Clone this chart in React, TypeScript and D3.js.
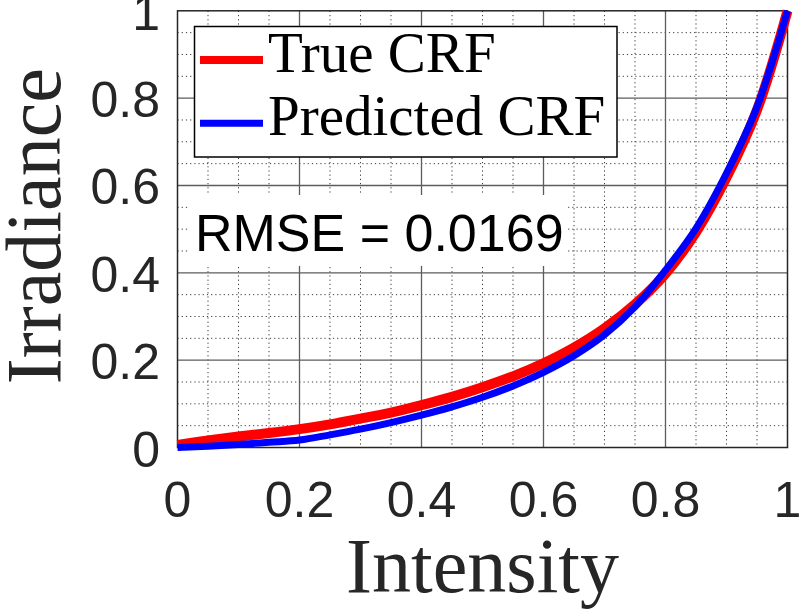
import React from 'react';
import * as d3 from 'd3';

// values
const intensity = [0, 0.05, 0.1, 0.15, 0.2, 0.25, 0.3, 0.35, 0.4, 0.45, 0.5, 0.55, 0.6, 0.65, 0.7, 0.75, 0.8, 0.85, 0.9, 0.95, 1];
const trueCrf = [0.006, 0.016, 0.025, 0.033, 0.042, 0.053, 0.066, 0.08, 0.097, 0.116, 0.138, 0.163, 0.193, 0.229, 0.273, 0.328, 0.398, 0.493, 0.618, 0.773, 1.0];
const predictedCrf = [0.0, 0.003, 0.007, 0.012, 0.017, 0.029, 0.042, 0.057, 0.074, 0.093, 0.115, 0.141, 0.172, 0.21, 0.258, 0.322, 0.406, 0.502, 0.628, 0.78, 1.0];
const majorTicks = [0, 0.2, 0.4, 0.6, 0.8, 1];
const tickLabels = ['0', '0.2', '0.4', '0.6', '0.8', '1'];
const minorTicks = [0.05, 0.1, 0.15, 0.25, 0.3, 0.35, 0.45, 0.5, 0.55, 0.65, 0.7, 0.75, 0.85, 0.9, 0.95];
const legendItems = [
  { label: 'True CRF', color: '#ff0000' },
  { label: 'Predicted CRF', color: '#0000ff' },
];
const rmseText = 'RMSE = 0.0169';

const width = 801;
const height = 612;
const plot = { left: 177.5, right: 787.5, top: 10.8, bottom: 447.5 };

const sans = "'Liberation Sans', Arial, Helvetica, sans-serif";
const serif = "'Liberation Serif', 'Times New Roman', serif";

export default function App() {
  const x = d3.scaleLinear().domain([0, 1]).range([plot.left, plot.right]);
  const y = d3.scaleLinear().domain([0, 1]).range([plot.bottom, plot.top]);

  const line = d3.line<number>()
    .x((_, i) => x(intensity[i]))
    .y(d => y(d))
    .curve(d3.curveCatmullRom.alpha(0.5));

  return (
    <svg width={width} height={height} style={{ position: 'absolute', left: 0, top: 0, background: '#fff' }}>
      <rect x={0} y={0} width={width} height={height} fill="#fff" />

      {/* minor grid, dotted */}
      {minorTicks.map(t => (
        <g key={'m' + t}>
          <line x1={x(t)} x2={x(t)} y1={plot.top} y2={plot.bottom} stroke="#3a3a3a" strokeWidth={1} strokeDasharray="1.2,3" />
          <line x1={plot.left} x2={plot.right} y1={y(t)} y2={y(t)} stroke="#3a3a3a" strokeWidth={1} strokeDasharray="1.2,3" />
        </g>
      ))}

      {/* major grid */}
      {majorTicks.slice(1, -1).map(t => (
        <g key={'M' + t}>
          <line x1={x(t)} x2={x(t)} y1={plot.top} y2={plot.bottom} stroke="#5c5c5c" strokeWidth={1.3} />
          <line x1={plot.left} x2={plot.right} y1={y(t)} y2={y(t)} stroke="#5c5c5c" strokeWidth={1.3} />
        </g>
      ))}

      {/* box */}
      <rect x={plot.left} y={plot.top} width={plot.right - plot.left} height={plot.bottom - plot.top}
        fill="none" stroke="#262626" strokeWidth={1.5} />

      {/* tick labels */}
      {majorTicks.map((t, i) => (
        <text key={'xt' + t} x={x(t)} y={517} textAnchor="middle" fontFamily={sans} fontSize={50} fill="#262626">
          {tickLabels[i]}
        </text>
      ))}
      {majorTicks.map((t, i) => (
        <text key={'yt' + t} x={160} y={y(t) + 19} textAnchor="end" fontFamily={sans} fontSize={50} fill="#262626">
          {tickLabels[i]}
        </text>
      ))}

      {/* axis labels */}
      <text x={(plot.left + plot.right) / 2} y={592} textAnchor="middle" fontFamily={serif} fontSize={78} fill="#262626">
        Intensity
      </text>
      <text transform={`translate(60,${(plot.top + plot.bottom) / 2 - 3}) rotate(-90)`} textAnchor="middle"
        fontFamily={serif} fontSize={78} fill="#262626">
        Irradiance
      </text>

      {/* RMSE annotation */}
      <rect x={190} y={195} width={378} height={71} fill="#fff" />
      <text x={195} y={251} fontFamily={sans} fontSize={52} fill="#000">{rmseText}</text>

      {/* curves */}
      <path d={line(trueCrf) ?? ''} fill="none" stroke={legendItems[0].color} strokeWidth={10} strokeLinejoin="round" />
      <path d={line(predictedCrf) ?? ''} fill="none" stroke={legendItems[1].color} strokeWidth={7} strokeLinejoin="round" />

      {/* legend */}
      <rect x={194.5} y={26.5} width={422.5} height={130.5} fill="#fff" stroke="#000" strokeWidth={1.5} />
      {legendItems.map((d, i) => (
        <g key={d.label} transform={`translate(0,${i * 63.3})`}>
          <line x1={200} x2={263} y1={60} y2={60} stroke={d.color} strokeWidth={i === 0 ? 8 : 7} />
          <text x={268} y={72} fontFamily={serif} fontSize={57} fill="#000">{d.label}</text>
        </g>
      ))}
    </svg>
  );
}
